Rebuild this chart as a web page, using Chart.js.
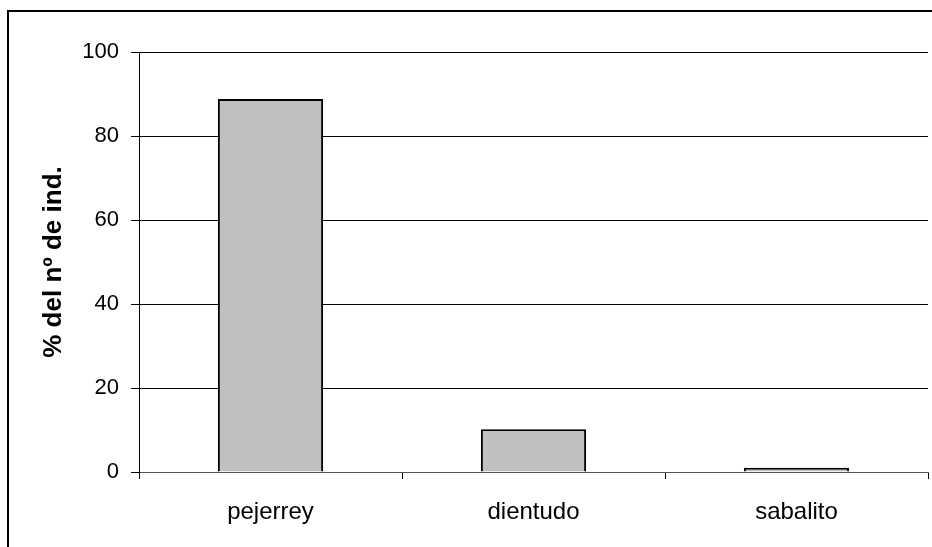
<!DOCTYPE html>
<html>
<head>
<meta charset="utf-8">
<script src="https://cdn.jsdelivr.net/npm/chart.js@4/dist/chart.umd.min.js"></script>
<style>
body { margin:0; background:#fff; overflow:hidden; }
#marco { position:absolute; left:7px; top:10px; width:1000px; height:600px; border:2px solid #000; }
#grafico { position:absolute; left:0; top:0; }
</style>
</head>
<body>
<div id="marco"></div>
<canvas id="grafico" width="932" height="547"></canvas>
<script>
// especies y porcentaje del numero de individuos
var especies = ["pejerrey", "dientudo", "sabalito"];
var porcentajes = [88.8, 10.2, 1.0];
var tituloY = "% del nº de ind.";

var ctx = document.getElementById("grafico");
var grafico = new Chart(ctx, {
	type: 'bar',
	data: {
		labels: especies,
		datasets: [{
			data: porcentajes,
			backgroundColor: '#c0c0c0',
			borderColor: '#000',
			borderWidth: 2,
			barPercentage: 0.4,
			categoryPercentage: 1.0
		}]
	},
	options: {
		responsive: false,
		animation: false,
		layout: { padding: { top: 52, right: 4, bottom: 0, left: 0 } },
		plugins: { legend: { display: false }, tooltip: { enabled: false } },
		scales: {
			x: {
				grid: { drawOnChartArea: false, drawTicks: true, tickLength: 7, color: '#000', offset: true },
				border: { color: '#555', width: 1 },
				ticks: { color: '#000', padding: 19, font: { family: 'Liberation Sans, Arial', size: 24 } },
				afterFit: function(s){ s.height = 75; }
			},
			y: {
				min: 0, max: 100,
				ticks: { stepSize: 20, color: '#000', padding: 12, font: { family: 'Liberation Sans, Arial', size: 22 } },
				grid: { color: '#000', lineWidth: 1, tickLength: 8 },
				border: { color: '#000', width: 1 },
				title: { display: true, text: tituloY, color: '#000', padding: { top: 38, bottom: 0 }, font: { family: 'Liberation Sans, Arial', size: 26, weight: 'bold' } },
				afterFit: function(s){ s.width = 139; }
			}
		}
	}
});
</script>
</body>
</html>
